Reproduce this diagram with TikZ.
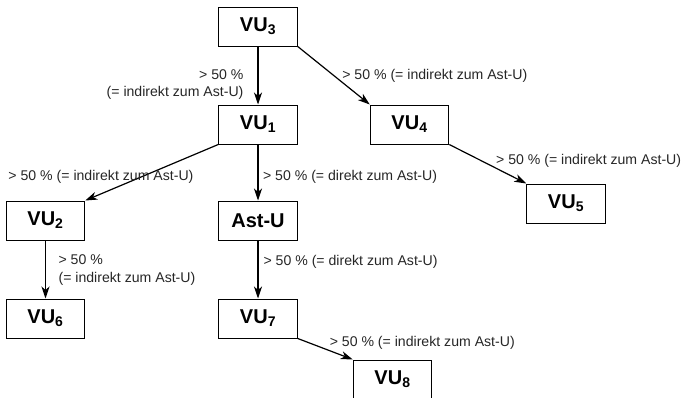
\documentclass[tikz,border=0pt]{standalone}
\usepackage{fontspec}
\setmainfont{Liberation Sans}
\usepackage{tikz}
\usetikzlibrary{arrows.meta, positioning}

\tikzset{
	vubox/.style={draw, line width=1pt, minimum width=78.5pt, minimum height=39pt, inner sep=0pt, font=\fontsize{20}{24}\selectfont\bfseries},
	lbl/.style={inner sep=0pt, font=\fontsize{14.1}{17.5}\selectfont, text=black!85}
}

\begin{document}
\begin{tikzpicture}[x=1pt, y=1pt, line width=1.2pt, >={Stealth[length=12pt,width=8pt,inset=3.5pt]}]
	\useasboundingbox (0,0) rectangle (683,-397);

	\node[vubox] (vu3) at (258,-26.5) {VU\textsubscript{3}};
	\node[vubox] (vu1) [below = 58pt of vu3] {VU\textsubscript{1}};
	\node[vubox] (vu4) [right = 72pt of vu1] {VU\textsubscript{4}};
	\node[vubox] (vu5) [below right = 39pt and 77pt of vu4] {VU\textsubscript{5}};
	\node[vubox] (astu) [below = 56pt of vu1] {Ast-U};
	\node[vubox] (vu2) [below left = 56pt and 133pt of vu1] {VU\textsubscript{2}};
	\node[vubox] (vu6) [below = 58pt of vu2] {VU\textsubscript{6}};
	\node[vubox] (vu7) [below = 58pt of astu] {VU\textsubscript{7}};
	\node[vubox] (vu8) [below right = 21pt and 55pt of vu7] {VU\textsubscript{8}};

	\draw[->] (vu3) -- node[lbl, pos=0.66, anchor=east, xshift=-14pt, align=right] {> 50 \%\\(= indirekt zum Ast-U)} (vu1);
	\draw[->] (vu3.south east) -- node[lbl, pos=0.5, anchor=west, xshift=8pt] {> 50 \% (= indirekt zum Ast-U)} (vu4.north west);
	\draw[->] (vu1.south west) -- node[lbl, pos=0.57, xshift=-41.5pt] {> 50 \% (= indirekt zum Ast-U)} (vu2.north east);
	\draw[->] (vu1) -- node[lbl, pos=0.57, anchor=west, xshift=4.5pt] {> 50 \% (= direkt zum Ast-U)} (astu);
	\draw[->] (vu4.south east) -- node[lbl, pos=0.42, anchor=west, xshift=14pt] {> 50 \% (= indirekt zum Ast-U)} (vu5.north west);
	\draw[->] (vu2) -- node[lbl, pos=0.51, anchor=west, xshift=12.5pt, align=left] {> 50 \%\\(= indirekt zum Ast-U)} (vu6);
	\draw[->] (astu) -- node[lbl, pos=0.37, anchor=west, xshift=5pt] {> 50 \% (= direkt zum Ast-U)} (vu7);
	\draw[->] (vu7.south east) -- node[lbl, pos=0.19, anchor=west, xshift=21pt] {> 50 \% (= indirekt zum Ast-U)} (vu8.north west);
\end{tikzpicture}
\end{document}
